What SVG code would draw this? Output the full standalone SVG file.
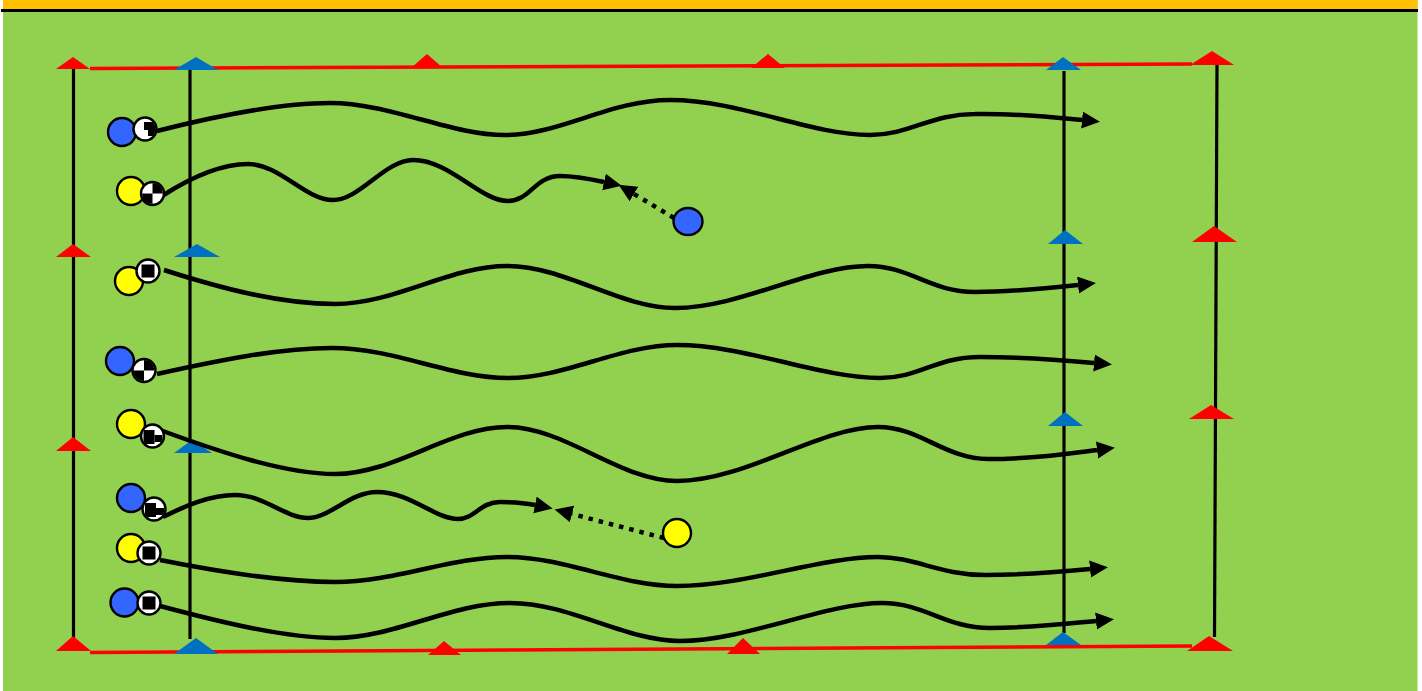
<svg xmlns="http://www.w3.org/2000/svg" width="1422" height="691" viewBox="0 0 1422 691">
<style>
.r{fill:#ff0000}.b{fill:#0070c0}
.v{stroke:#000;stroke-width:3.200;fill:none}
.e{stroke:#ff0000;stroke-width:3.500;fill:none}
.w{stroke:#000;stroke-width:4.500;fill:none;marker-end:url(#a)}
.d{stroke:#000;stroke-width:4.500;fill:none;stroke-dasharray:4.500 6;marker-end:url(#a)}
.p{stroke:#000;stroke-width:2.400}
.bl{fill:#3366ff}.ye{fill:#ffff00}
</style>
<defs>
<marker id="a" markerUnits="userSpaceOnUse" markerWidth="20" markerHeight="18" refX="0" refY="8.500" orient="auto"><path d="M0 0L18 8.500L0 17z" fill="#000"/></marker>
<clipPath id="c"><circle r="10.500"/></clipPath>
<g id="q1"><circle r="11.500" fill="#fff" stroke="#000" stroke-width="2.400"/><g clip-path="url(#c)"><rect x="-1" y="-7" width="12" height="14" fill="#000"/><rect x="-2" y="1" width="5" height="7" fill="#fff"/></g></g>
<g id="q2"><circle r="11.500" fill="#fff" stroke="#000" stroke-width="2.400"/><g clip-path="url(#c)"><rect x="-11" y="0" width="11" height="11" fill="#000"/><rect x="0" y="-11" width="11" height="11" fill="#000"/></g></g>
<g id="q3"><circle r="11.500" fill="#fff" stroke="#000" stroke-width="2.400"/><g clip-path="url(#c)"><rect x="-6.500" y="-6.500" width="13" height="13" fill="#000"/></g></g>
<g id="q4"><circle r="11.500" fill="#fff" stroke="#000" stroke-width="2.400"/><g clip-path="url(#c)"><rect x="-9" y="-6" width="11" height="14" fill="#000"/><rect x="2" y="-1" width="8" height="7" fill="#000"/></g></g>
</defs>
<rect x="3" y="0" width="1414.500" height="691" fill="#92d050"/>
<rect x="3" y="0" width="1414.500" height="10" fill="#ffc000"/>
<path d="M1 10.500H1418" stroke="#000" stroke-width="3"/>
<g id="field-lines">
<path class="e" d="M90 68.500L1192 64"/>
<path class="e" d="M90 652.500L1192 646"/>
<path class="v" d="M73.500 68V638"/>
<path class="v" d="M190 68V639"/>
<path class="v" d="M1064 71V633"/>
<path class="v" d="M1217 65L1214.500 637"/>
</g>
<g id="cones">
<path class="r" d="M56 69L73 57L90 69z"/><path class="r" d="M411 68L427 54L443 68z"/><path class="r" d="M751 68L768 54L785 68z"/><path class="r" d="M1190 65L1212 51L1234 65z"/>
<path class="r" d="M1192 242L1214 226L1237 242z"/><path class="r" d="M1189 419L1211 405L1234 419z"/><path class="r" d="M1187 651L1209 636L1233 651z"/><path class="r" d="M727 654L743 638L760 654z"/>
<path class="r" d="M428 655L444 641L461 655z"/><path class="r" d="M56 651L73 636L91 651z"/><path class="r" d="M56 451L73 437L91 451z"/><path class="r" d="M56 257L73 244L91 257z"/>
<path class="b" d="M174 70L196 57L218 70z"/><path class="b" d="M174 257L197 244L220 257z"/><path class="b" d="M174 453L192 440L212 453z"/><path class="b" d="M174 654L196 638L218 654z"/>
<path class="b" d="M1046 70L1063 57L1081 70z"/><path class="b" d="M1048 244L1065 230L1083 244z"/><path class="b" d="M1048 426L1065 412L1083 426z"/><path class="b" d="M1046 645L1063 632L1081 645z"/>
</g>
<g id="connectors">
<path class="w" d="M157 131C220 115 280 103 330 103C390 103 450 135 505 135C560 135 610 100 670 100C740 100 810 135 870 135C910 135 930 114 975 114C1010 113 1050 117 1082 120"/>
<path class="w" d="M162 196C190 178 220 164 248 164C280 164 305 200 333 200C360 200 385 160 413 160C450 160 480 201 508 201C530 201 535 176 560 176C575 176 590 179 604 182"/>
<path class="w" d="M164 270C220 288 280 304 335 304C395 304 450 266 507 266C565 266 620 308 675 308C740 308 810 266 868 266C910 266 930 292 975 292C1010 292 1050 288 1078 285"/>
<path class="w" d="M157 374C220 360 280 348 332 348C395 348 450 378 508 378C565 378 620 345 677 345C745 345 820 378 880 378C920 378 935 357 980 357C1020 357 1060 360 1094 363"/>
<path class="w" d="M160 430C220 452 285 474 335 474C395 474 450 427 507 427C565 427 620 481 677 481C745 481 820 427 878 427C920 427 945 459 988 459C1030 459 1065 454 1097 450"/>
<path class="w" d="M163 517C185 506 210 495 235 495C265 495 285 518 308 518C330 518 350 492 377 492C410 492 435 519 458 519C475 519 480 502 500 502C510 502 525 503 535 505"/>
<path class="w" d="M160 560C220 572 285 582 335 582C395 582 450 557 507 557C565 557 620 586 677 586C745 586 820 557 878 557C915 557 940 575 985 575C1025 575 1060 572 1090 569"/>
<path class="w" d="M160 606C220 622 285 638 335 638C395 638 450 603 510 603C570 603 625 641 680 641C745 641 825 603 882 603C925 603 945 628 990 628C1030 628 1065 624 1096 621"/>
<path class="d" d="M674 218L634 194"/>
<path class="d" d="M664 538L572 514"/>
</g>
<g id="p1"><circle class="p bl" cx="122" cy="132" r="14"/><use href="#q1" x="145" y="129"/></g>
<g id="p2"><circle class="p ye" cx="131" cy="191" r="14"/><use href="#q2" x="152.500" y="193.500"/></g>
<g id="p3"><circle class="p ye" cx="129" cy="281" r="14"/><use href="#q3" x="148" y="271"/></g>
<g id="p4"><circle class="p bl" cx="120" cy="361" r="14"/><use href="#q2" x="144" y="370.500"/></g>
<g id="p5"><circle class="p ye" cx="131" cy="424" r="14"/><use href="#q4" x="152.500" y="436"/></g>
<g id="p6"><circle class="p bl" cx="131" cy="498" r="14"/><use href="#q4" x="154" y="509"/></g>
<g id="p7"><circle class="p ye" cx="131" cy="548" r="14"/><use href="#q3" x="149" y="553"/></g>
<g id="p8"><circle class="p bl" cx="124.500" cy="602.500" r="14"/><use href="#q3" x="149" y="603"/></g>
<g id="p9"><ellipse class="p bl" cx="688" cy="221.500" rx="14.500" ry="13.500"/></g>
<g id="p10"><circle class="p ye" cx="677" cy="533" r="14"/></g>
</svg>
